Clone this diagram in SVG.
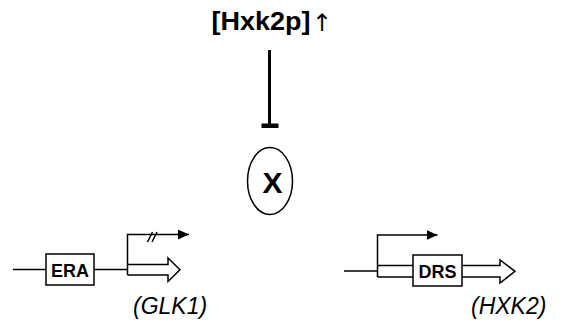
<svg xmlns="http://www.w3.org/2000/svg" width="566" height="328" viewBox="0 0 566 328">
<defs>
<marker id="ah" markerWidth="11" markerHeight="10" refX="11" refY="5" orient="auto" markerUnits="userSpaceOnUse">
<path d="M0,0 L11,5 L0,10 Z" fill="#000"/>
</marker>
</defs>
<style>
.ln{stroke:#000;stroke-width:1.5;fill:none}
.box{stroke:#000;stroke-width:1.5;fill:#fff}
.bt{font-family:"Liberation Sans",Arial,sans-serif;font-weight:bold;fill:#000}
.it{font-family:"Liberation Sans",Arial,sans-serif;font-style:italic;fill:#000;font-size:23px}
</style>
<rect width="566" height="328" fill="#fff"/>
<g id="hxk2p">
<text class="bt" x="211.5" y="30" font-size="26.5" textLength="99" lengthAdjust="spacingAndGlyphs">[Hxk2p]</text>
<text x="322" y="31" font-family="'DejaVu Sans',sans-serif" font-size="24" text-anchor="middle" fill="#000">↑</text>
</g>
<g id="x">
<ellipse cx="270" cy="181" rx="22.5" ry="33.5" class="ln" stroke-width="1.3"/>
<text class="bt" x="272.5" y="193" font-size="30" text-anchor="middle">X</text>
</g>
<g id="glk1">
<rect class="box" x="46" y="254" width="48" height="31"/>
<text class="bt" x="70" y="277" font-size="18" text-anchor="middle">ERA</text>
<path class="ln" d="M127.5,264.5 H168 V258 L180,269.7 L168,281.5 V275 H127.5"/>
<text class="it" x="133" y="314">(GLK1)</text>
</g>
<g id="hxk2">
<path class="ln" d="M377.5,265.5 H413 M377.5,277 H413 M462,265.5 H500 V260 L515,271.3 L500,283 V277 H462"/>
<rect class="box" x="413" y="255" width="49" height="31"/>
<text class="bt" x="437.5" y="277.5" font-size="18" text-anchor="middle">DRS</text>
<text class="it" x="471" y="314">(HXK2)</text>
</g>
<g id="connectors">
<line x1="269.5" y1="50" x2="269.5" y2="125" stroke="#000" stroke-width="3"/>
<rect x="261.5" y="123.5" width="17" height="4.5" fill="#000"/>
<path class="ln" d="M13,269.5 H46 M94,269.5 H127.5"/>
<path class="ln" d="M127.5,275 V234.5 H189" marker-end="url(#ah)"/>
<path class="ln" d="M147.5,242 L152.5,232 M152,242 L157,232" stroke-width="1.2"/>
<path class="ln" d="M344,271 H377.5"/>
<path class="ln" d="M377.5,277 V235 H437.5" marker-end="url(#ah)"/>
</g>
</svg>
